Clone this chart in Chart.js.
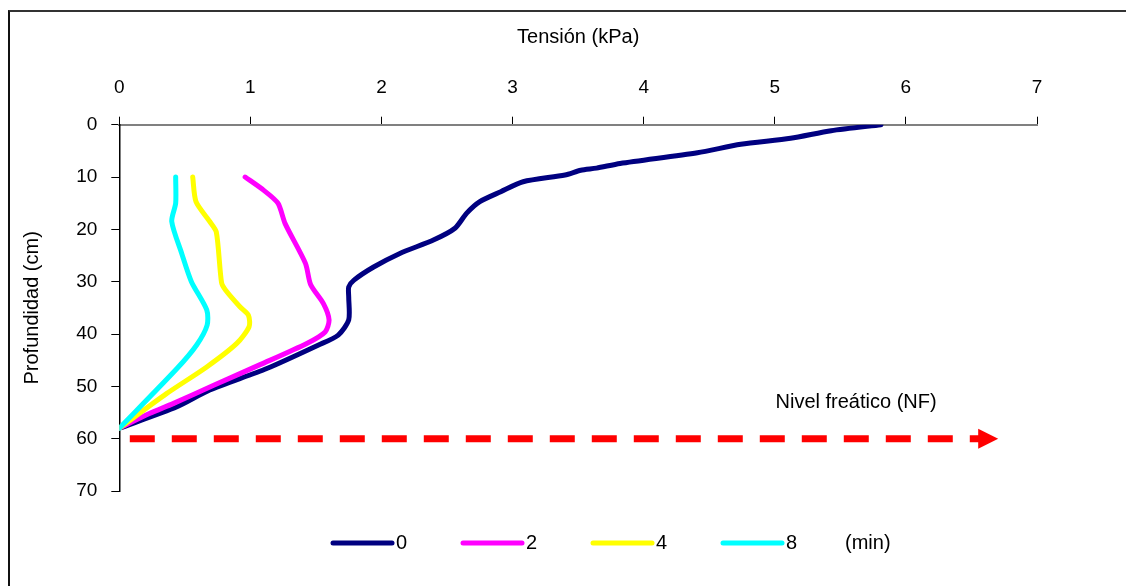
<!DOCTYPE html>
<html>
<head>
<meta charset="utf-8">
<script src="https://cdn.jsdelivr.net/npm/chart.js@4/dist/chart.umd.min.js"></script>
<style>
  html, body { margin: 0; padding: 0; background: #fff; overflow: hidden; }
  #wrap { position: relative; width: 1126px; height: 586px; overflow: hidden; }
  #frame { position: absolute; left: 8px; top: 10px; width: 1300px; height: 800px;
           border-left: 2px solid #111; border-top: 2px solid #333; }
  #c { position: absolute; left: 0; top: 0; }
</style>
</head>
<body>
<div id="wrap">
  <div id="frame"></div>
  <canvas id="c" width="1126" height="586"></canvas>
</div>
<script>
// tension (kPa) vs depth (cm), one pair of arrays per time
const t0_x = [5.81, 5.43, 5.12, 4.74, 4.41, 3.82, 3.64, 3.52, 3.40, 3.08, 2.91, 2.75, 2.65, 2.56, 2.40, 2.14, 1.94, 1.79, 1.75, 1.75, 1.75, 1.67, 1.52, 1.125, 0.69, 0.44, 0];
const t0_y = [0, 1.15, 2.6, 3.75, 5.35, 7.4, 8.3, 8.7, 9.6, 10.9, 12.8, 14.7, 16.9, 19.8, 22.0, 24.6, 27.2, 29.7, 31.0, 33.0, 37.3, 40.2, 42.1, 46.6, 50.7, 53.9, 58];

const t2_x = [0.96, 1.10, 1.21, 1.265, 1.42, 1.46, 1.557, 1.60, 1.57, 1.43, 1.07, 0.72, 0.41, 0.23, 0];
const t2_y = [10, 12.5, 15.0, 18.9, 26.5, 30.6, 34.2, 37.3, 39.6, 41.8, 45.9, 49.8, 53.3, 55.2, 58];

const t4_x = [0.56, 0.585, 0.69, 0.74, 0.78, 0.81, 0.92, 0.985, 0.99, 0.896, 0.667, 0.36, 0];
const t4_y = [10, 14.7, 18.5, 20.5, 30.2, 31.6, 34.8, 36.4, 38.6, 41.8, 46.3, 51.4, 58];

const t8_x = [0.43, 0.43, 0.40, 0.476, 0.55, 0.667, 0.67, 0.59, 0.44, 0];
const t8_y = [10, 15.0, 18.5, 24.6, 30.0, 35.4, 38.3, 42.1, 46.6, 58];

const seriesLabels = ['0', '2', '4', '8'];
const seriesColors = ['#000080', '#FF00FF', '#FFFF00', '#00FFFF'];

// water table (NF) arrow
const nf_x = [0.08, 6.62];
const nf_y = [60, 60];
const nfLabel = 'Nivel freático (NF)';

const xTicks = [0, 1, 2, 3, 4, 5, 6, 7];
const yTicks = [0, 10, 20, 30, 40, 50, 60, 70];

const FONT = "'Liberation Sans', Arial, sans-serif";

function pts(xs, ys) {
  return xs.map((x, i) => ({ x: x, y: ys[i] }));
}

const series = [[t0_x, t0_y], [t2_x, t2_y], [t4_x, t4_y], [t8_x, t8_y]];
const datasets = series.map((s, i) => ({
  label: seriesLabels[i],
  data: pts(s[0], s[1]),
  showLine: true,
  borderColor: seriesColors[i],
  backgroundColor: seriesColors[i],
  borderWidth: 5,
  pointRadius: 0,
  tension: 0.25,
  borderCapStyle: 'round',
  borderJoinStyle: 'round',
  order: 4 - i
}));

datasets.push({
  label: 'NF',
  isArrow: true,
  data: pts(nf_x, nf_y),
  showLine: true,
  borderColor: '#FF0000',
  borderWidth: 7,
  borderDash: [25, 17],
  borderCapStyle: 'butt',
  pointRadius: 0,
  order: 10
});

const extras = {
  id: 'extras',
  afterDatasetsDraw(chart) {
    const ctx = chart.ctx;
    const xs = chart.scales.x, ys = chart.scales.y;

    // arrow head at end of NF line
    chart.data.datasets.forEach((ds, i) => {
      if (!ds.isArrow) return;
      const last = ds.data[ds.data.length - 1];
      const px = xs.getPixelForValue(last.x), py = ys.getPixelForValue(last.y);
      ctx.save();
      ctx.fillStyle = ds.borderColor;
      ctx.beginPath();
      ctx.moveTo(px - 9, py - 10);
      ctx.lineTo(px + 11, py);
      ctx.lineTo(px - 9, py + 10);
      ctx.closePath();
      ctx.fill();
      ctx.restore();
    });

    ctx.save();
    ctx.fillStyle = '#000';
    ctx.font = '20px ' + FONT;
    ctx.textAlign = 'center';
    ctx.textBaseline = 'middle';
    ctx.fillText(nfLabel, xs.getPixelForValue(5.62), ys.getPixelForValue(53));
    ctx.restore();
  },
  afterDraw(chart) {
    // legend row under the plot
    const ctx = chart.ctx;
    const y = 543, x0 = 333, step = 130, len = 59;
    ctx.save();
    ctx.font = '20px ' + FONT;
    ctx.textBaseline = 'middle';
    ctx.textAlign = 'left';
    let k = 0;
    chart.data.datasets.forEach(ds => {
      if (ds.isArrow) return;
      const x = x0 + k * step;
      ctx.strokeStyle = ds.borderColor;
      ctx.lineWidth = 5;
      ctx.lineCap = 'round';
      ctx.beginPath();
      ctx.moveTo(x, y);
      ctx.lineTo(x + len, y);
      ctx.stroke();
      ctx.fillStyle = '#000';
      ctx.fillText(ds.label, x + len + 4, y);
      k++;
    });
    ctx.fillText('(min)', 845, y);
    ctx.restore();
  }
};

new Chart(document.getElementById('c'), {
  type: 'scatter',
  data: { datasets: datasets },
  options: {
    responsive: false,
    animation: false,
    devicePixelRatio: 1,
    layout: { padding: { left: 18, top: 23, right: 89, bottom: 95 } },
    plugins: {
      legend: { display: false },
      tooltip: { enabled: false }
    },
    scales: {
      x: {
        type: 'linear',
        position: 'top',
        min: 0,
        max: 7,
        afterBuildTicks: s => { s.ticks = xTicks.map(v => ({ value: v })); },
        afterFit: s => { s.height = 101.7; },
        ticks: { color: '#000', padding: 18, font: { family: FONT, size: 19 } },
        grid: { drawOnChartArea: false, drawTicks: true, tickLength: 8, tickColor: '#000', tickWidth: 1 },
        border: { color: '#808080', width: 2 },
        title: { display: true, text: 'Tensión (kPa)', color: '#000', padding: { top: 2, bottom: 0 },
                 font: { family: FONT, size: 20 } }
      },
      y: {
        type: 'linear',
        reverse: true,
        min: 0,
        max: 70,
        afterBuildTicks: s => { s.ticks = yTicks.map(v => ({ value: v })); },
        afterFit: s => { s.width = 101.3; },
        ticks: { color: '#000', padding: 14, font: { family: FONT, size: 19 } },
        grid: { drawOnChartArea: false, drawTicks: true, tickLength: 8, tickColor: '#000', tickWidth: 1 },
        border: { color: '#000', width: 1.5 },
        title: { display: true, text: 'Profundidad (cm)', color: '#000', padding: { top: 2, bottom: 0 },
                 font: { family: FONT, size: 20 } }
      }
    }
  },
  plugins: [extras]
});
</script>
</body>
</html>
